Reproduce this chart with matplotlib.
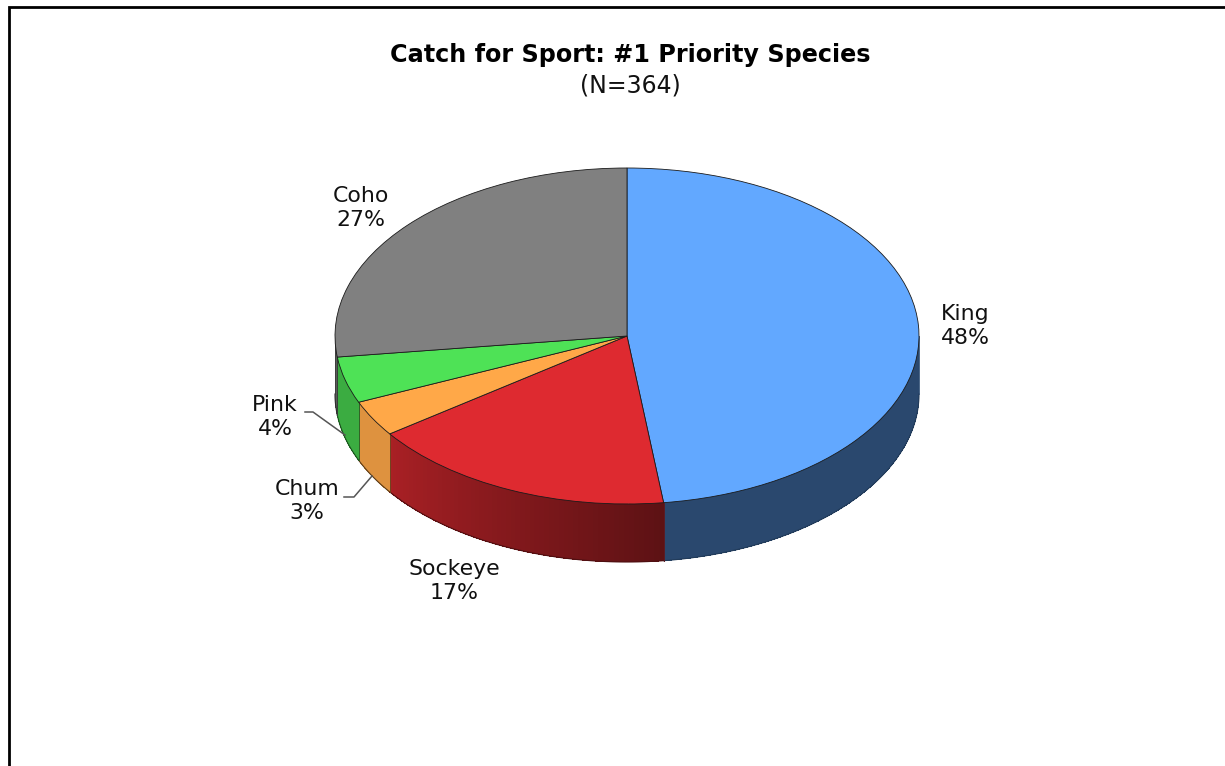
import matplotlib
matplotlib.use("Agg")
import matplotlib.pyplot as plt
import numpy as np

species = ["King", "Sockeye", "Chum", "Pink", "Coho"]
shares = [48.0, 17.1, 3.45, 4.45, 27.0]
top_colors = ["#62a8ff", "#de2a30", "#ffa848", "#4ee256", "#808080"]
# side wall shading at the start and end of each slice, clockwise
side_shade = [(0.43, 0.43), (0.42, 0.76), (0.87, 0.87), (0.76, 0.76), (0.7, 0.7)]

W, H = 1225, 766
CX, CY, RX, RY = 627, 336, 292, 168
DEPTH = 58 / RY


def shaded(color, factor):
    return tuple(c * factor for c in matplotlib.colors.to_rgb(color))


fig = plt.figure(figsize=(W / 100, H / 100), dpi=100, facecolor="white")

# overlay in pixel units for the frame, titles and labels
page = fig.add_axes([0, 0, 1, 1])
page.set_xlim(0, W)
page.set_ylim(H, 0)
page.axis("off")
page.plot([8.5, 8.5, 1225], [H, 7.2, 7.2], color="black", lw=2.0, solid_joinstyle="miter")

ax = fig.add_axes([(CX - RX) / W, 1 - (CY + RY) / H, 2 * RX / W, 2 * RY / H])
wedges, _ = ax.pie(
    shares,
    colors=top_colors,
    startangle=90,
    counterclock=False,
    radius=1,
    wedgeprops={"edgecolor": "#1a1a1a", "linewidth": 0.6, "zorder": 5},
)
ax.set_aspect("auto")
ax.set_xlim(-1, 1)
ax.set_ylim(-1, 1)

# extruded rim: only the front half of the ellipse is visible
ends = 90 - 3.6 * np.cumsum(shares)
starts = np.r_[90, ends[:-1]]
for color, a0, a1, (s0, s1) in zip(top_colors, starts, ends, side_shade):
    # clockwise, so a1 < a0; keep the part between -180 and 0 degrees
    lo = np.radians(max(a1, -180))
    hi = np.radians(min(a0, 0))
    if hi <= lo:
        continue
    edges = np.linspace(hi, lo, int(np.degrees(hi - lo)) + 2)
    shade_vals = np.linspace(s0, s1, len(edges) - 1)
    for t0, t1, s in zip(edges[:-1], edges[1:], shade_vals):
        ax.fill(
            [np.cos(t0), np.cos(t1), np.cos(t1), np.cos(t0)],
            [np.sin(t0), np.sin(t1), np.sin(t1) - DEPTH, np.sin(t0) - DEPTH],
            facecolor=shaded(color, s), edgecolor="none", antialiased=False,
            zorder=2, clip_on=False,
        )
    t = np.linspace(hi, lo, 100)
    ax.plot(np.cos(t), np.sin(t) - DEPTH, color=shaded(color, 0.35), lw=0.8, zorder=3, clip_on=False)
    for edge in (hi, lo):
        ax.plot([np.cos(edge)] * 2, [np.sin(edge), np.sin(edge) - DEPTH],
                color=shaded(color, 0.45), lw=0.6, zorder=3, clip_on=False)

font = "DejaVu Sans"
page.text(630, 55, "Catch for Sport: #1 Priority Species", ha="center", va="center",
          fontsize=17.2, fontweight="bold", family=font, color="black")
page.text(630, 86, "(N=364)", ha="center", va="center", fontsize=17, family=font,
          color="#111111")

label_spots = {
    "King": (965, 314),
    "Sockeye": (454, 569),
    "Chum": (307, 489),
    "Pink": (275, 405),
    "Coho": (361, 196),
}
for name, share in zip(species, shares):
    x, y = label_spots[name]
    page.text(x, y, name, ha="center", va="center", fontsize=15.8, family=font, color="#111111")
    page.text(x, y + 24, f"{share:.0f}%", ha="center", va="center", fontsize=15.8, family=font,
              color="#111111")

# leader lines for the two narrow slices
page.plot([305, 313, 345], [412, 412, 435], color="#555555", lw=1.1)
page.plot([344, 354, 372], [497, 497, 476], color="#555555", lw=1.1)
page.set_zorder(3)
page.patch.set_visible(False)

fig.savefig("out.png", dpi=100)
